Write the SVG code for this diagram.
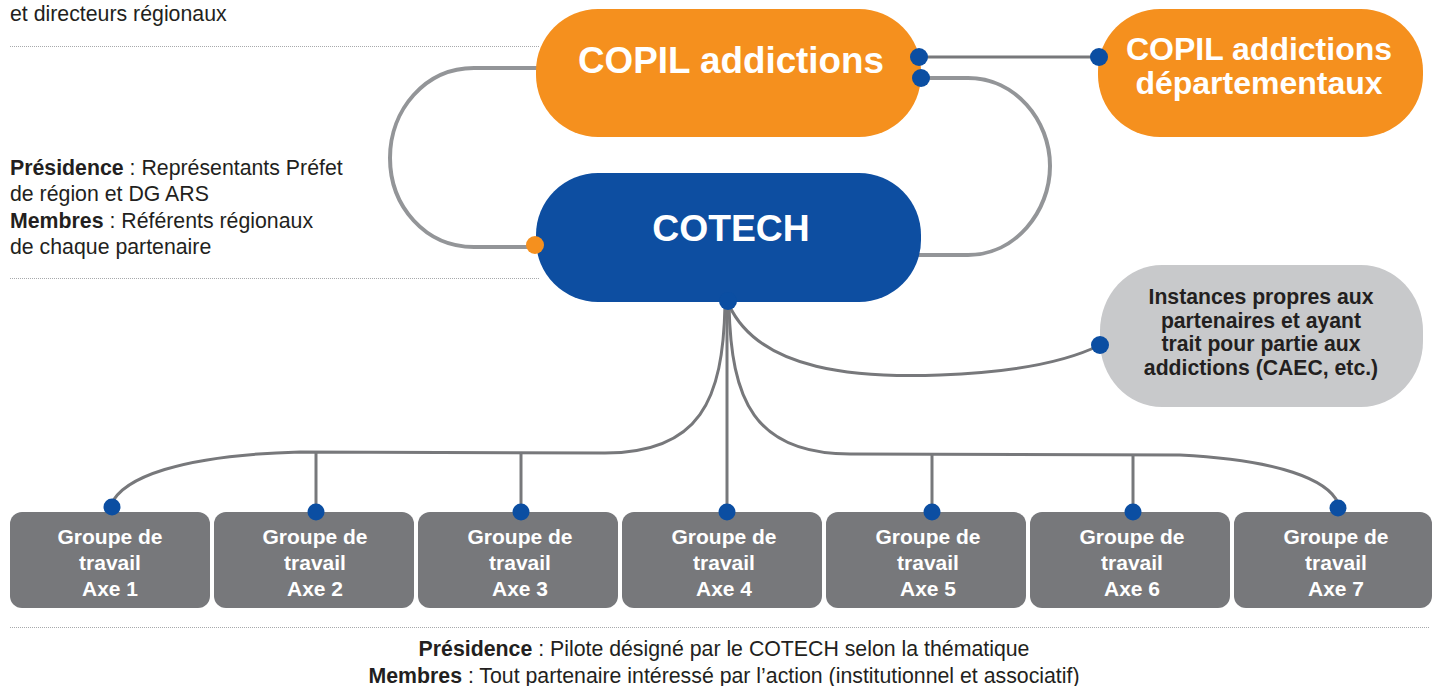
<svg xmlns="http://www.w3.org/2000/svg" width="1437" height="686" viewBox="0 0 1437 686">
<style>
  .t { font-family: "Liberation Sans", Arial, sans-serif; fill: #231f20; }
  .b { font-weight: bold; }
  .w { fill: #ffffff; font-weight: bold; font-family: "Liberation Sans", Arial, sans-serif; text-anchor: middle; }
  .sep { stroke: #a7a9ac; stroke-width: 1; stroke-dasharray: 1 1; fill: none; }
  .loop { stroke: #939598; stroke-width: 4; fill: none; }
  .con { stroke: #77787b; stroke-width: 3; fill: none; }
  .dot { fill: #0b4ea2; }
  .grp { fill: #77787b; }
</style>
<rect width="1437" height="686" fill="#ffffff"/>

<g id="notes">
  <text class="t" x="10" y="21" font-size="21.3">et directeurs régionaux</text>
  <line class="sep" x1="10" y1="46.5" x2="540" y2="46.5"/>
  <text class="t" font-size="21.3"><tspan x="10" y="175"><tspan class="b">Présidence</tspan> : Représentants Préfet</tspan><tspan x="10" y="201">de région et DG ARS</tspan><tspan x="10" y="228"><tspan class="b">Membres</tspan> : Référents régionaux</tspan><tspan x="10" y="254">de chaque partenaire</tspan></text>
  <line class="sep" x1="10" y1="278.5" x2="540" y2="278.5"/>
  <line class="sep" x1="10" y1="627.5" x2="1430" y2="627.5"/>
  <text class="t" font-size="21.3" text-anchor="middle"><tspan x="724" y="656"><tspan class="b">Présidence</tspan> : Pilote désigné par le COTECH selon la thématique</tspan><tspan x="724" y="683"><tspan class="b">Membres</tspan> : Tout partenaire intéressé par l’action (institutionnel et associatif)</tspan></text>
</g>

<g id="connectors">
  <path class="loop" d="M 540 68 L 474 68 C 425 68 390 110 390 158 C 390 206 425 247 474 247 L 536 247"/>
  <path class="loop" d="M 921 78 L 968 78 C 1015 78 1050 120 1050 166 C 1050 212 1015 255 968 255 L 915 255"/>
  <line class="con" x1="921" y1="57" x2="1098" y2="57"/>
  <path class="con" d="M 729 305 C 760 372 860 378 940 375 C 1020 372 1070 360 1100 345"/>
  <line class="con" x1="727" y1="305" x2="727" y2="512"/>
  <path class="con" d="M 725 305 C 723 400 700 453 605 453 L 300 452 C 180 455 122 478 111 505"/>
  <path class="con" d="M 729 305 C 731 400 754 454 850 454 L 1180 455 C 1280 460 1328 480 1338 503"/>
  <line class="con" x1="316" y1="452" x2="316" y2="512"/>
  <line class="con" x1="521" y1="452" x2="521" y2="512"/>
  <line class="con" x1="932" y1="454" x2="932" y2="512"/>
  <line class="con" x1="1133" y1="455" x2="1133" y2="512"/>
</g>

<g id="copil">
  <rect x="536" y="9" width="385" height="128" rx="62" ry="62" fill="#f5901e"/>
  <text class="w" x="731" y="73" font-size="36.8">COPIL addictions</text>
</g>
<g id="copil-dep">
  <rect x="1098" y="9" width="325" height="128" rx="62" ry="62" fill="#f5901e"/>
  <text class="w" font-size="32"><tspan x="1259" y="60">COPIL addictions</tspan><tspan x="1259" y="94">départementaux</tspan></text>
</g>
<g id="cotech">
  <rect x="536" y="173" width="385" height="129" rx="62" ry="62" fill="#0d4ea1"/>
  <text class="w" x="731" y="241" font-size="37.3">COTECH</text>
</g>
<g id="instances">
  <rect x="1100" y="265" width="323" height="142" rx="62" ry="66" fill="#c8c9cb"/>
  <text class="t b" font-size="21.2" text-anchor="middle"><tspan x="1261" y="304">Instances propres aux</tspan><tspan x="1261" y="328">partenaires et ayant</tspan><tspan x="1261" y="351">trait pour partie aux</tspan><tspan x="1261" y="375">addictions (CAEC, etc.)</tspan></text>
</g>

<g id="axe1"><rect class="grp" x="10" y="512" width="200" height="96" rx="12"/><text class="w" font-size="21"><tspan x="110" y="544">Groupe de</tspan><tspan x="110" y="570">travail</tspan><tspan x="110" y="596">Axe 1</tspan></text></g>
<g id="axe2"><rect class="grp" x="214" y="512" width="200" height="96" rx="12"/><text class="w" font-size="21"><tspan x="315" y="544">Groupe de</tspan><tspan x="315" y="570">travail</tspan><tspan x="315" y="596">Axe 2</tspan></text></g>
<g id="axe3"><rect class="grp" x="418" y="512" width="200" height="96" rx="12"/><text class="w" font-size="21"><tspan x="520" y="544">Groupe de</tspan><tspan x="520" y="570">travail</tspan><tspan x="520" y="596">Axe 3</tspan></text></g>
<g id="axe4"><rect class="grp" x="622" y="512" width="200" height="96" rx="12"/><text class="w" font-size="21"><tspan x="724" y="544">Groupe de</tspan><tspan x="724" y="570">travail</tspan><tspan x="724" y="596">Axe 4</tspan></text></g>
<g id="axe5"><rect class="grp" x="826" y="512" width="200" height="96" rx="12"/><text class="w" font-size="21"><tspan x="928" y="544">Groupe de</tspan><tspan x="928" y="570">travail</tspan><tspan x="928" y="596">Axe 5</tspan></text></g>
<g id="axe6"><rect class="grp" x="1030" y="512" width="200" height="96" rx="12"/><text class="w" font-size="21"><tspan x="1132" y="544">Groupe de</tspan><tspan x="1132" y="570">travail</tspan><tspan x="1132" y="596">Axe 6</tspan></text></g>
<g id="axe7"><rect class="grp" x="1234" y="512" width="198" height="96" rx="12"/><text class="w" font-size="21"><tspan x="1336" y="544">Groupe de</tspan><tspan x="1336" y="570">travail</tspan><tspan x="1336" y="596">Axe 7</tspan></text></g>

<g id="ports">
  <circle class="dot" cx="919" cy="57" r="9"/>
  <circle class="dot" cx="921" cy="78" r="9"/>
  <circle class="dot" cx="1099" cy="57" r="9"/>
  <circle cx="535" cy="245" r="9" fill="#f5901e"/>
  <circle class="dot" cx="728" cy="301" r="9"/>
  <circle class="dot" cx="1100" cy="345" r="9"/>
  <circle class="dot" cx="112" cy="507" r="8.5"/>
  <circle class="dot" cx="316" cy="512" r="8.5"/>
  <circle class="dot" cx="521" cy="512" r="8.5"/>
  <circle class="dot" cx="727" cy="512" r="8.5"/>
  <circle class="dot" cx="932" cy="512" r="8.5"/>
  <circle class="dot" cx="1133" cy="512" r="8.5"/>
  <circle class="dot" cx="1338" cy="508" r="8.5"/>
</g>
</svg>
